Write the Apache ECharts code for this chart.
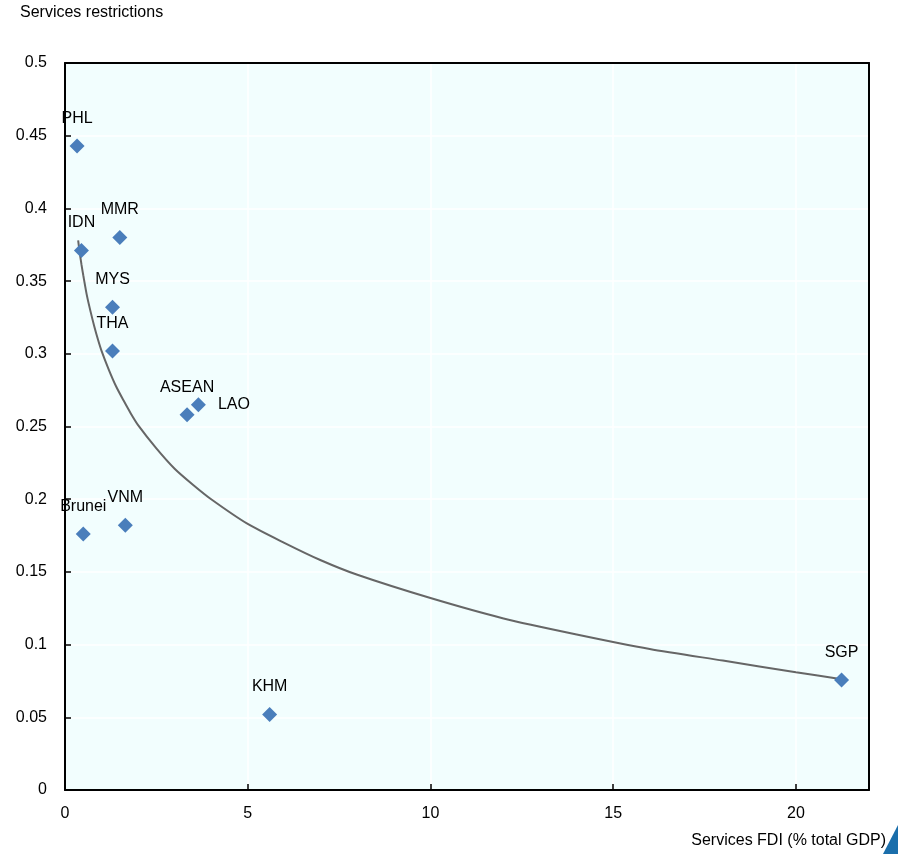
<!DOCTYPE html>
<html><head><meta charset="utf-8">
<script src="https://cdn.jsdelivr.net/npm/echarts@6/dist/echarts.min.js"></script>
<style>html,body{margin:0;padding:0;background:#fff}#c{width:898px;height:854px}</style>
</head><body><div id="c"></div>
<script>
const countries = ['PHL','IDN','MMR','MYS','THA','ASEAN','LAO','Brunei','VNM','KHM','SGP'];
const fdi =        [0.33, 0.45, 1.50, 1.30, 1.30, 3.34, 3.65, 0.50, 1.65, 5.60, 21.25];
const restrict =   [0.443,0.371,0.380,0.332,0.302,0.258,0.265,0.176,0.182,0.052,0.0757];
const trendX = [0.36,0.4,0.45,0.5,0.6,0.7,0.8,0.9,1.0,1.2,1.4,1.6,1.8,2.0,2.5,3,3.5,4,5,6,7,8,10,12,14,16,18,20,21.3];
const trendY = [0.378,0.370,0.3615,0.354,0.340,0.329,0.319,0.310,0.302,0.289,0.2775,0.268,0.259,0.251,0.235,0.221,0.210,0.200,0.183,0.170,0.158,0.148,0.132,0.118,0.107,0.097,0.089,0.081,0.076];
const xTicks = [0,5,10,15,20];
const yTicks = [0,0.05,0.1,0.15,0.2,0.25,0.3,0.35,0.4,0.45,0.5];

const FONT = '"Liberation Sans",Arial,sans-serif';
const labelPos = {LAO:'right'};
const chart = echarts.init(document.getElementById('c'), null, {renderer:'canvas'});
const pts = countries.map((c,i)=>({
  value:[fdi[i], restrict[i]], name:c,
  label:{position: labelPos[c]||'top', distance: 12}
}));
const frameAxis = {type:'value', axisLine:{show:true, onZero:false, lineStyle:{color:'#000', width:2}},
  axisTick:{show:false}, axisLabel:{show:false}, splitLine:{show:false}};
chart.setOption({
  animation:false,
  textStyle:{fontFamily:FONT},
  grid:{left:65, top:63, right:29, bottom:64, show:true, backgroundColor:'#F2FEFE', borderWidth:0},
  xAxis:[{type:'value', min:0, max:22, interval:5,
    axisLine:{show:true, onZero:false, lineStyle:{color:'#000', width:2}},
    axisTick:{show:true, inside:true, length:6, lineStyle:{color:'#000', width:1.5}},
    axisLabel:{color:'#000', fontSize:16, fontFamily:FONT, margin:16,
      formatter:v=> xTicks.includes(v)? String(v):''},
    splitLine:{show:true, lineStyle:{color:'#fff', width:1.5}}},
    Object.assign({position:'top', min:0, max:22}, frameAxis)],
  yAxis:[{type:'value', min:0, max:0.5, interval:0.05,
    axisLine:{show:true, onZero:false, lineStyle:{color:'#000', width:2}},
    axisTick:{show:true, inside:true, length:6, lineStyle:{color:'#000', width:1.5}},
    axisLabel:{color:'#000', fontSize:16, fontFamily:FONT, margin:18,
      formatter:v=>{const t=yTicks.find(y=>Math.abs(y-v)<1e-9); return t===undefined?'':String(parseFloat(t.toFixed(2)));}},
    splitLine:{show:true, lineStyle:{color:'#fff', width:1.5}}},
    Object.assign({position:'right', min:0, max:0.5}, frameAxis)],
  graphic:[
    {type:'text', left:20, top:5, style:{text:'Services restrictions', font:'16px '+FONT, fill:'#000'}},
    {type:'text', right:12, top:833, style:{text:'Services FDI (% total GDP)', font:'16px '+FONT, fill:'#000', textAlign:'right'}},
    {type:'polygon', shape:{points:[[883,854],[898,825],[898,854]]}, style:{fill:'#1A6EAB'}}
  ],
  series:[
    {type:'line', data:trendX.map((x,i)=>[x,trendY[i]]), smooth:0.25, showSymbol:false,
     lineStyle:{color:'#666', width:2}, z:2},
    {type:'scatter', data:pts, symbol:'diamond', symbolSize:15,
     itemStyle:{color:'#4A7EBB', opacity:1}, z:3,
     label:{show:true, formatter:p=>p.name, color:'#000', fontSize:16, fontFamily:FONT}}
  ]
});
</script></body></html>
